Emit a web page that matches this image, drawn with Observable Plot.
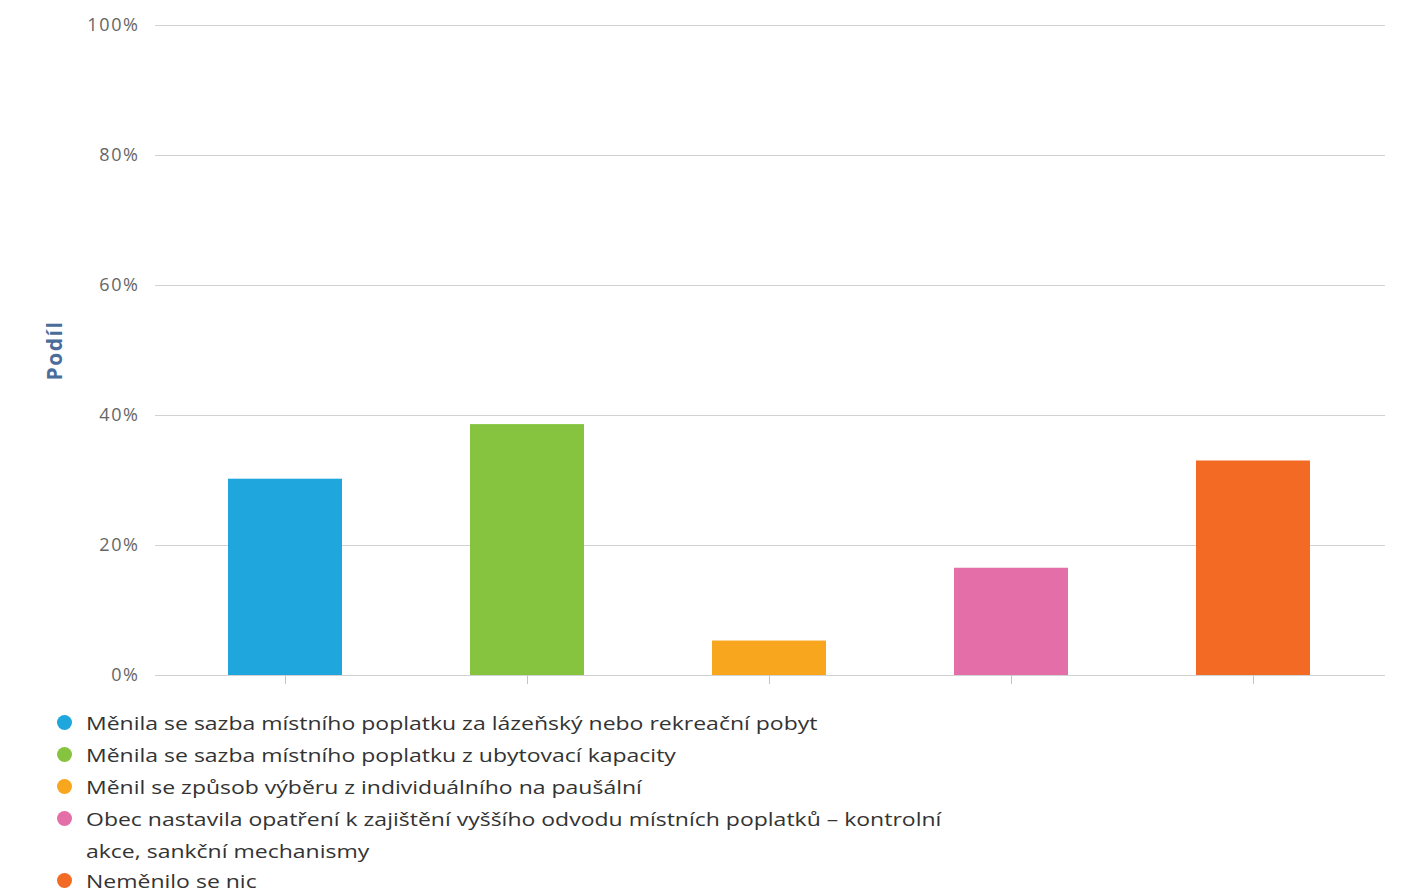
<!DOCTYPE html>
<html>
<head>
<meta charset="utf-8">
<script src="https://cdn.jsdelivr.net/npm/d3@7"></script>
<script src="https://cdn.jsdelivr.net/npm/@observablehq/plot@0.6"></script>
<style>
  html, body { margin: 0; padding: 0; background: #fff; }
  #wrap { position: relative; width: 1404px; height: 893px; overflow: hidden; font-family: "Open Sans", sans-serif; }
  #legend { position: absolute; left: 57px; top: 707px; width: 1000px; }
  .item { position: relative; padding-left: 29px; font-size: 19px; line-height: 32px; height: 32px; color: #333; }
  .item.two { height: 64px; }
  .item:last-child { height: 26px; line-height: 28px; }
  .txt { display: inline-block; width: 745px; transform: scaleX(1.21); transform-origin: 0 0; }
  .dot { position: absolute; left: 0; top: 8px; width: 15px; height: 15px; border-radius: 50%; }
  .item:last-child .dot { top: 6px; }
  #chart g[aria-label="y-axis tick label"] text { letter-spacing: 1.6px; }
</style>
</head>
<body>
<div id="wrap">
  <div id="chart"></div>
  <div id="legend"></div>
</div>
<script>
const categories = [
  "Měnila se sazba místního poplatku za lázeňský nebo rekreační pobyt",
  "Měnila se sazba místního poplatku z ubytovací kapacity",
  "Měnil se způsob výběru z individuálního na paušální",
  "Obec nastavila opatření k zajištění vyššího odvodu místních poplatků – kontrolní akce, sankční mechanismy",
  "Neměnilo se nic"
];
const values = [30.2, 38.6, 5.3, 16.5, 33.0];
const colors = ["#1ea6dd", "#86c440", "#f8a61e", "#e46ea8", "#f26a24"];
const yTicks = [0, 20, 40, 60, 80, 100];
const yTitle = "Podíl";

const data = categories.map((c, i) => ({cat: c, value: values[i], color: colors[i]}));

const chart = Plot.plot({
  width: 1404,
  height: 700,
  marginLeft: 155,
  marginRight: 19,
  marginTop: 25,
  marginBottom: 25,
  style: {fontFamily: "Open Sans, sans-serif", background: "transparent"},
  x: {domain: categories, padding: 0.53, paddingOuter: 0.265, insetLeft: 9, insetRight: 11, axis: null},
  y: {domain: [0, 100], axis: null},
  marks: [
    Plot.ruleY(yTicks, {stroke: "#d2d2d2", strokeWidth: 1}),
    Plot.barY(data, {x: "cat", y: "value", fill: "color"}),
    Plot.axisX({tickSize: 9, tickFormat: () => "", stroke: "#c4c4c4", label: null}),
    Plot.axisY({ticks: yTicks, tickSize: 0, tickPadding: 16, tickFormat: d => d + "%", fontSize: 18, color: "#666", label: null}),
    Plot.text([yTitle], {frameAnchor: "left", dx: -100, dy: 0, rotate: -90, textAnchor: "middle", fontSize: 21, fontWeight: "bold", fill: "#4a6d9a"})
  ]
});
document.getElementById("chart").appendChild(chart);
d3.select(chart).selectAll('g[aria-label="text"] text').style("letter-spacing", "1.5px");

const legend = document.getElementById("legend");
data.forEach(d => {
  const it = document.createElement("div");
  it.className = "item";
  const dot = document.createElement("span");
  dot.className = "dot";
  dot.style.background = d.color;
  it.appendChild(dot);
  const t = document.createElement("span");
  t.className = "txt";
  t.textContent = d.cat;
  it.appendChild(t);
  legend.appendChild(it);
  if (t.getBoundingClientRect().height > 40) it.classList.add("two");
});
</script>
</body>
</html>
